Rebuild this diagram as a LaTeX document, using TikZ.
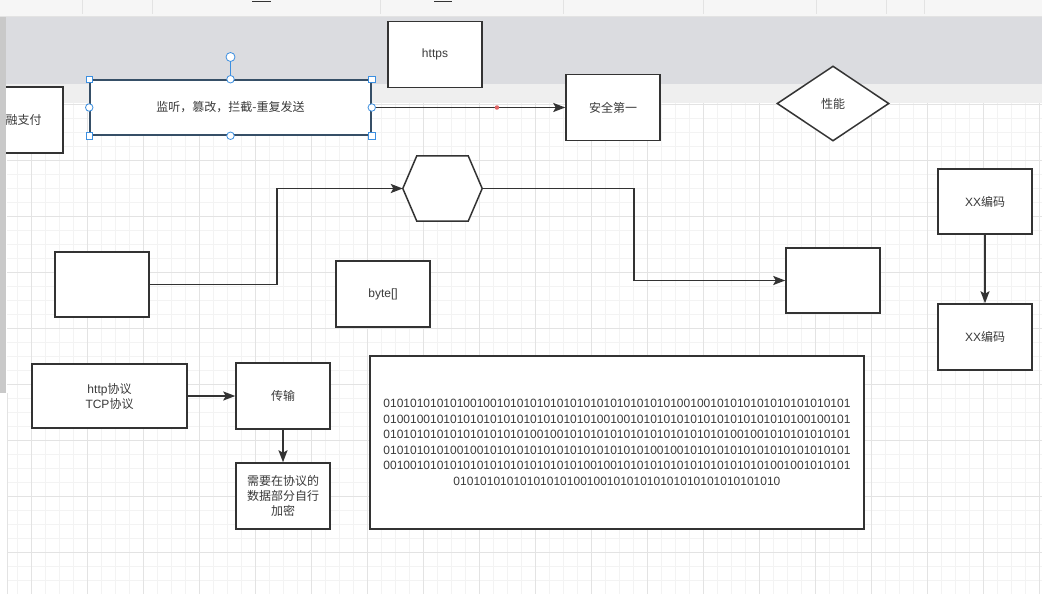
\documentclass[tikz,border=0pt]{standalone}
\usepackage{xcolor}
\usepackage{fontspec}
\setmainfont{Liberation Sans}
\newfontfamily\cjk{Noto Sans CJK SC}
\usepackage{tikz}
\usetikzlibrary{arrows.meta,shapes.geometric}

\definecolor{trait}{HTML}{333333}
\definecolor{texte}{HTML}{3A3A3A}
\definecolor{grismin}{HTML}{F3F3F3}
\definecolor{grismaj}{HTML}{E3E3E3}
\definecolor{barre}{HTML}{F6F6F6}
\definecolor{bandeau}{HTML}{DBDCE0}
\definecolor{bande}{HTML}{EFEFEF}
\definecolor{ascenseur}{HTML}{C9C9C9}
\definecolor{selec}{HTML}{3C8FE0}
\definecolor{pointrouge}{HTML}{E06666}

\begin{document}
\begin{tikzpicture}[x=1pt,y=-1pt,
    boite/.style={draw=trait, line width=1.5pt, fill=white, text=texte,
      font=\fontsize{12}{15}\selectfont, align=center, inner sep=0pt},
    fleche/.style={draw=trait, line width=1.8pt,
      -{Stealth[length=12pt,width=9pt,inset=2.5pt]}},
    poignee/.style={draw=selec, fill=white, line width=0.8pt,
      minimum size=6.5pt, inner sep=0pt}]
    \useasboundingbox (0,0) rectangle (1042,594);

    % Fond et barre d'outils
    \fill[white] (0,0) rectangle (1042,594);
    \fill[barre] (0,0) rectangle (1042,16);
    \foreach \x in {82,152,380,563,703,816,886,924}
        \draw[grismaj, line width=0.8pt] (\x,0) -- (\x,14);
    \draw[trait, line width=1pt] (252,1.5) -- (271,1.5);
    \draw[trait, line width=1pt] (434,1.5) -- (452,1.5);
    \draw[grismaj, line width=1pt] (0,16.5) -- (1042,16.5);
    \fill[bandeau] (0,17) rectangle (1042,84);
    \fill[bande] (0,84) rectangle (1042,103);

    % Grille
    \foreach \x in {17,31,...,1041}
        \draw[grismin, line width=0.8pt] (\x,103) -- (\x,594);
    \foreach \y in {104,118,...,594}
        \draw[grismin, line width=0.8pt] (7,\y) -- (1042,\y);
    \foreach \x in {31,87,...,1041}
        \draw[grismaj, line width=0.8pt] (\x,103) -- (\x,594);
    \foreach \y in {104,160,...,594}
        \draw[grismaj, line width=0.8pt] (7,\y) -- (1042,\y);

    % Boites du haut
    \node[boite, minimum width=79pt, minimum height=66pt] (paiement) at (23.5,120) {\cjk 融支付};
    \node[boite, draw=trait!70!selec, minimum width=281pt, minimum height=55pt] (ecoute) at (230.5,107.5) {\cjk 监听，篡改，拦截-重复发送};
    \node[boite, minimum width=94pt, minimum height=66pt] (https) at (435,54.5) {https};
    \node[boite, minimum width=94pt, minimum height=66pt] (securite) at (613,107.5) {\cjk 安全第一};
    \node[boite, diamond, minimum width=112pt, minimum height=75pt] (perf) at (833,103.5) {\cjk 性能};

    \draw[fleche] (ecoute.east) -- node[pos=0.647, circle, fill=pointrouge, inner sep=0pt, minimum size=4.5pt] (repere) {} (securite.west);

    % Selection
    \node[poignee, circle, minimum size=9pt] (rotation) at (230.5,57) {};
    \draw[selec, line width=1pt] (rotation) -- (ecoute.north);
    \foreach \a in {north west,north east,south west,south east}
        \node[poignee] at (ecoute.\a) {};
    \foreach \a in {north,south,east,west}
        \node[poignee, circle, minimum size=7.5pt] at (ecoute.\a) {};

    % Hexagone et boites vides
    \node[minimum width=79pt, minimum height=65pt, inner sep=0pt] (hexa) at (442.5,188.5) {};
    \draw[trait, fill=white, line width=1.5pt] (hexa.west) -- ([xshift=14pt]hexa.north west)
        -- ([xshift=-14pt]hexa.north east) -- (hexa.east)
        -- ([xshift=-14pt]hexa.south east) -- ([xshift=14pt]hexa.south west) -- cycle;
    \node[boite, minimum width=94pt, minimum height=65pt] (entree) at (102,284.5) {};
    \node[boite, minimum width=94pt, minimum height=65pt] (sortie) at (833,280.5) {};
    \node[boite, minimum width=94pt, minimum height=66pt] (octets) at (383,294) {byte[]};

    \draw[fleche] (entree.east) -- ++(127,0) |- (hexa.west);
    \draw[fleche] (hexa.east) -- ++(152,0) |- (sortie.west);

    % Codage
    \node[boite, minimum width=94pt, minimum height=65pt] (code1) at (985,201.5) {XX{\cjk 编码}};
    \node[boite, minimum width=94pt, minimum height=66pt] (code2) at (985,337) {XX{\cjk 编码}};
    \draw[fleche] (code1) -- (code2);

    % Protocole
    \node[boite, minimum width=155pt, minimum height=64pt] (proto) at (109.5,396) {http{\cjk 协议}\\TCP{\cjk 协议}};
    \node[boite, minimum width=94pt, minimum height=66pt] (transport) at (283,396) {\cjk 传输};
    \node[boite, minimum width=94pt, minimum height=66pt] (chiffre) at (283,496) {\cjk 需要在协议的\\\cjk 数据部分自行\\\cjk 加密};
    \draw[fleche] (proto) -- (transport);
    \draw[fleche] (transport) -- (chiffre);

    % Donnees binaires
    \node[boite, font=\fontsize{12}{15.5}\selectfont, minimum width=494pt, minimum height=173pt] (binaire) at (617,442.5) {%
        0101010101010010010101010101010101010101010100100101010101010101010101\\
        0100100101010101010101010101010100100101010101010101010101010100100101\\
        0101010101010101010101001001010101010101010101010101001001010101010101\\
        0101010101001001010101010101010101010101001001010101010101010101010101\\
        0010010101010101010101010101010010010101010101010101010101001001010101\\
        0101010101010101010010010101010101010101010101010};

    % Ascenseur
    \fill[ascenseur] (0,17) rectangle (6,393);
    \draw[grismaj, line width=0.8pt] (7,393) -- (7,594);
\end{tikzpicture}
\end{document}
